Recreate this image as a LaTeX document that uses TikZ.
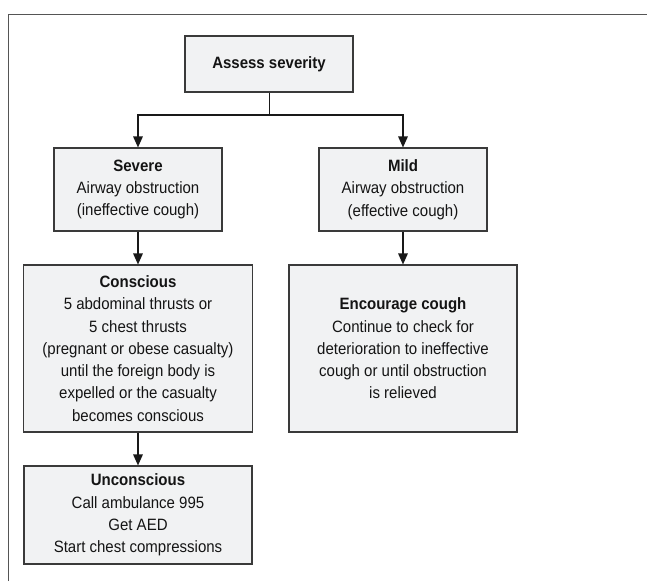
\documentclass[tikz,border=0pt]{standalone}
\usepackage{fontspec}
\setmainfont{Liberation Sans}[FakeStretch=0.915]
\usetikzlibrary{arrows.meta}
\definecolor{boxfill}{HTML}{F1F2F3}
\definecolor{boxline}{HTML}{3A3A3A}
\definecolor{framegray}{HTML}{555555}

\begin{document}
\begin{tikzpicture}[x=1pt, y=-1pt,
		box/.style={draw=boxline, line width=1.1pt, fill=boxfill, align=center, inner sep=4pt, text=black!92, font=\fontsize{16.4}{22.3}\selectfont},
		arr/.style={line width=1.5pt, black!90, -{Triangle[length=11pt, width=9.5pt]}}]
		\useasboundingbox (0,0) rectangle (647,581);
		\draw [framegray, line width=0.9pt] (8, 581) -- (8, 14) -- (647, 14);
		\node [box, minimum width=168pt, minimum height=56pt] (assess) at (269, 64) {\textbf{Assess severity}};
		\node [box, minimum width=168pt, minimum height=83pt] (severe) at (138, 189.5) {\textbf{Severe}\\Airway obstruction\\(ineffective cough)};
		\node [box, minimum width=168pt, minimum height=83pt] (mild) at (403, 189.5) {\textbf{Mild}\\Airway obstruction\\(effective cough)};
		\node [box, minimum width=229pt, minimum height=167pt] (conscious) at (138, 348.5) {\textbf{Conscious}\\5 abdominal thrusts or\\5 chest thrusts\\(pregnant or obese casualty)\\until the foreign body is\\expelled or the casualty\\becomes conscious};
		\node [box, minimum width=228pt, minimum height=167pt] (encourage) at (403, 348.5) {\textbf{Encourage cough}\\Continue to check for\\deterioration to ineffective\\cough or until obstruction\\is relieved};
		\node [box, minimum width=228pt, minimum height=98pt] (unconscious) at (138, 515) {\textbf{Unconscious}\\Call ambulance 995\\Get AED\\Start chest compressions};
		\coordinate (split) at (269, 115);
		\draw [black!90, line width=0.8pt] (assess.south) -- (split);
		\draw [arr] (split) -| (severe.north);
		\draw [arr] (split) -| (mild.north);
		\draw [arr] (severe.south) -- (severe.south |- conscious.north);
		\draw [arr] (mild.south) -- (mild.south |- encourage.north);
		\draw [arr] (conscious.south) -- (conscious.south |- unconscious.north);
	\end{tikzpicture}
\end{document}
